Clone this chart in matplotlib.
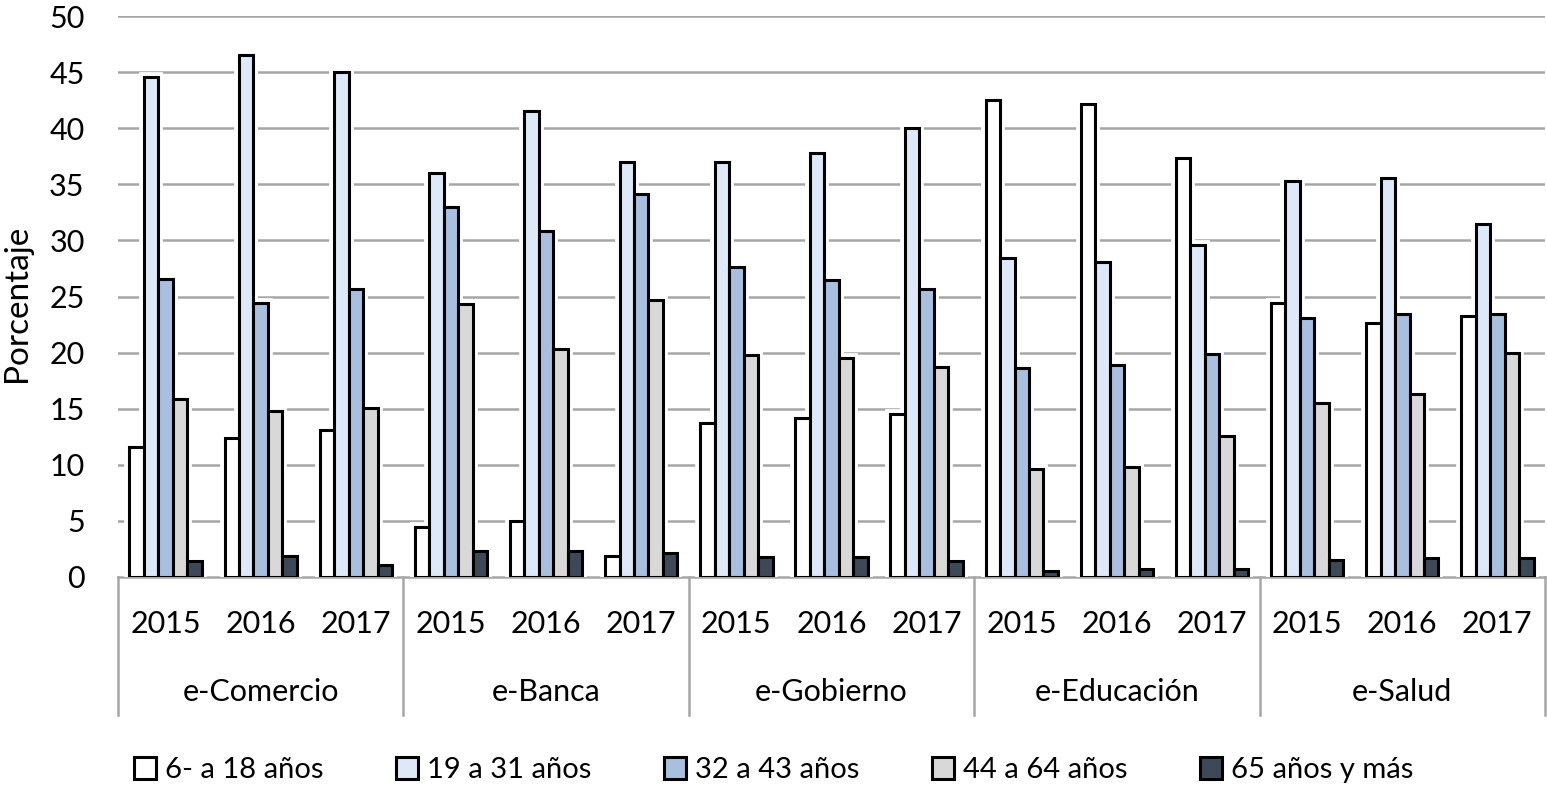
import numpy as np
import matplotlib
matplotlib.use("Agg")
import matplotlib.pyplot as plt
from matplotlib.patches import Patch
import matplotlib.transforms as mtransforms

plt.rcParams['font.family'] = ['Lato', 'DejaVu Sans']

grupos = ['e-Comercio', 'e-Banca', 'e-Gobierno', 'e-Educación', 'e-Salud']
anios = ['2015', '2016', '2017']
series = ['6- a 18 años', '19 a 31 años', '32 a 43 años', '44 a 64 años', '65 años y más']

# valores por serie, en orden grupo x año (15 valores)
edad_6_18 = [11.6, 12.4, 13.1, 4.5, 5.0, 1.9, 13.7, 14.2, 14.5, 42.5, 42.2, 37.3, 24.4, 22.6, 23.3]
edad_19_31 = [44.6, 46.5, 45.0, 36.0, 41.5, 37.0, 37.0, 37.8, 40.0, 28.4, 28.1, 29.6, 35.3, 35.6, 31.5]
edad_32_43 = [26.6, 24.4, 25.7, 33.0, 30.8, 34.1, 27.6, 26.5, 25.7, 18.6, 18.9, 19.9, 23.1, 23.4, 23.4]
edad_44_64 = [15.9, 14.8, 15.1, 24.3, 20.3, 24.7, 19.8, 19.5, 18.7, 9.6, 9.8, 12.6, 15.5, 16.3, 20.0]
edad_65 = [1.4, 1.9, 1.1, 2.3, 2.3, 2.1, 1.8, 1.8, 1.4, 0.5, 0.7, 0.7, 1.5, 1.7, 1.7]

valores = [edad_6_18, edad_19_31, edad_32_43, edad_44_64, edad_65]
colores = ['#ffffff', '#dde9f8', '#a9bfe0', '#d8d8d8', '#3e4957']

fig = plt.figure(figsize=(15.47, 7.89), dpi=100)
ax = fig.add_axes([118 / 1547, 1 - 577 / 789, (1545 - 118) / 1547, (577 - 16) / 789])

n = len(grupos) * len(anios)
x = np.arange(n) + 0.5
w = 0.152

for k, (vals, col) in enumerate(zip(valores, colores)):
    pos = x + (k - 2) * w
    # halo blanco que corta las líneas de la cuadrícula
    ax.bar(pos, vals, w, color='white', edgecolor='white', linewidth=7, zorder=2)
    ax.bar(pos, vals, w, color=col, edgecolor='black', linewidth=2.2, zorder=3)

ax.set_xlim(0, n)
ax.set_ylim(0, 50)
ax.set_yticks(np.arange(0, 51, 5))
ax.tick_params(axis='y', length=0, labelsize=22, pad=24)
ax.set_xticks([])
for s in ax.spines.values():
    s.set_visible(False)
for yv in np.arange(5, 51, 5):
    ax.axhline(yv, color='#a6a6a6', linewidth=1.8, zorder=1)
ax.axhline(0, color='#a6a6a6', linewidth=1.8, zorder=1, clip_on=False)
ax.set_ylabel('Porcentaje', fontsize=24)
ax.yaxis.set_label_coords(-0.0603, 0.488)

# etiquetas multinivel del eje x
trans = mtransforms.blended_transform_factory(ax.transData, ax.transAxes)
for i in range(n):
    ax.text(x[i], -0.083, anios[i % 3], transform=trans, ha='center', va='center', fontsize=22)
for g, nombre in enumerate(grupos):
    ax.text(g * 3 + 1.5, -0.205, nombre, transform=trans, ha='center', va='center', fontsize=22)
for b in range(len(grupos) + 1):
    ax.plot([b * 3, b * 3], [0, -0.246], transform=trans, color='#a6a6a6', linewidth=1.8, clip_on=False)

handles = [Patch(facecolor=c, edgecolor='black', linewidth=2.2) for c in colores]
fig.legend(handles, series, loc='center', bbox_to_anchor=(0.5, 1 - 770 / 789), ncol=5, frameon=False,
           fontsize=21, handlelength=0.75, handleheight=0.75, handletextpad=0.3, columnspacing=2.5)

fig.savefig('out.png', dpi=100)
